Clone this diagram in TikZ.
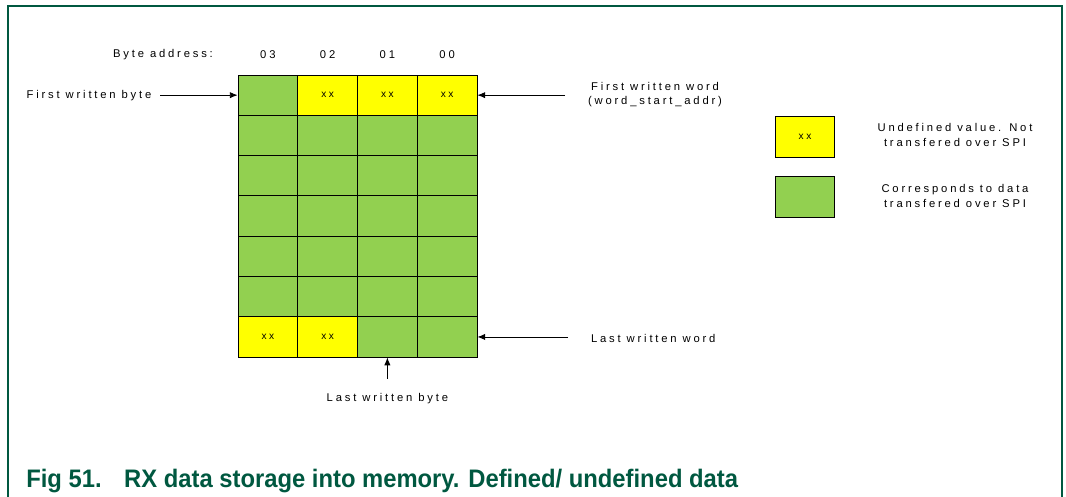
\documentclass[tikz,border=0pt]{standalone}
\usepackage{fontspec}
\setmainfont{Liberation Sans}
\newfontfamily\spacedfont[LetterSpace=25]{Liberation Sans}
\usetikzlibrary{arrows.meta,positioning}
\definecolor{frameGreen}{RGB}{0,88,64}
\definecolor{dataGreen}{RGB}{146,208,80}
\definecolor{undefYellow}{RGB}{255,255,0}

\tikzset{
  cell/.style={draw=black,line width=0.6pt,fill=dataGreen,minimum width=1.494cm,minimum height=1.0075cm,inner sep=0pt,font=\spacedfont\fontsize{7.2}{8}\selectfont},
  undefcell/.style={cell,fill=undefYellow},
  lbl/.style={font=\spacedfont\fontsize{8}{10}\selectfont,inner sep=2pt,align=center},
  arr/.style={-{Latex[length=5.5pt,width=4.5pt]},line width=0.6pt},
}

\begin{document}
\begin{tikzpicture}[x=0.025cm,y=-0.025cm]
\path[use as bounding box] (0,0) rectangle (1066,496);
\draw[frameGreen,line width=1.4pt] (8,498) -- (8,6) -- (1062,6) -- (1062,498);

% memory words, byte 03 on the left
\foreach \r in {1,...,7}{
  \foreach \c in {1,...,4}{
    \pgfmathtruncatemacro\isundef{(\r==1 && \c>1) || (\r==7 && \c<3)}
    \ifnum\isundef=1
      \node[undefcell] (c\r\c) at ({238+59.75*(\c-0.5)},{75+40.3*(\r-0.5)}) {xx};
    \else
      \node[cell] (c\r\c) at ({238+59.75*(\c-0.5)},{75+40.3*(\r-0.5)}) {};
    \fi
  }
}

% byte addresses
\node[lbl] (addr) at (163,55) {Byte address:};
\node[lbl] (a3) at (c11.north |- 0,55) {03};
\node[lbl] (a2) at (c12.north |- 0,55) {02};
\node[lbl] (a1) at (c13.north |- 0,55) {01};
\node[lbl] (a0) at (c14.north |- 0,55) {00};

% pointers
\node[lbl] (fbyte) at (89,96) {First written byte};
\draw[arr,shorten <=0.15cm] (fbyte.east |- c11.west) -- (c11.west);

\node[lbl] (fword) at (655,95) {First written word\\(word\_start\_addr)};
\draw[arr,shorten <=0.5cm] (fword.west |- c14.east) -- (c14.east);

\node[lbl,anchor=west] (lword) at (588,338) {Last written word};
\draw[arr,shorten <=0.5cm] (lword.west |- c74.east) -- (c74.east);

\node[lbl] (lbyte) at (c73.south |- 0,399) {Last written byte};
\draw[arr,shorten <=0.3cm] (lbyte.north) -- (c73.south);

% key
\node[undefcell] (kundef) at (805,137) {xx};
\node[lbl] (kundeftxt) at (955,135) {Undefined value. Not\\transfered over SPI};
\node[cell] (kdata) at (805,197) {};
\node[lbl] (kdatatxt) at (955,196) {Corresponds to data\\transfered over SPI};

\node[anchor=base west,inner sep=0pt,text=frameGreen,font=\bfseries\fontsize{18}{20}\selectfont] (caption) at (26,487) {\scalebox{0.94}[1]{Fig 51.\hspace{0.6cm}RX data storage into memory. Defined/ undefined data}};
\end{tikzpicture}
\end{document}
